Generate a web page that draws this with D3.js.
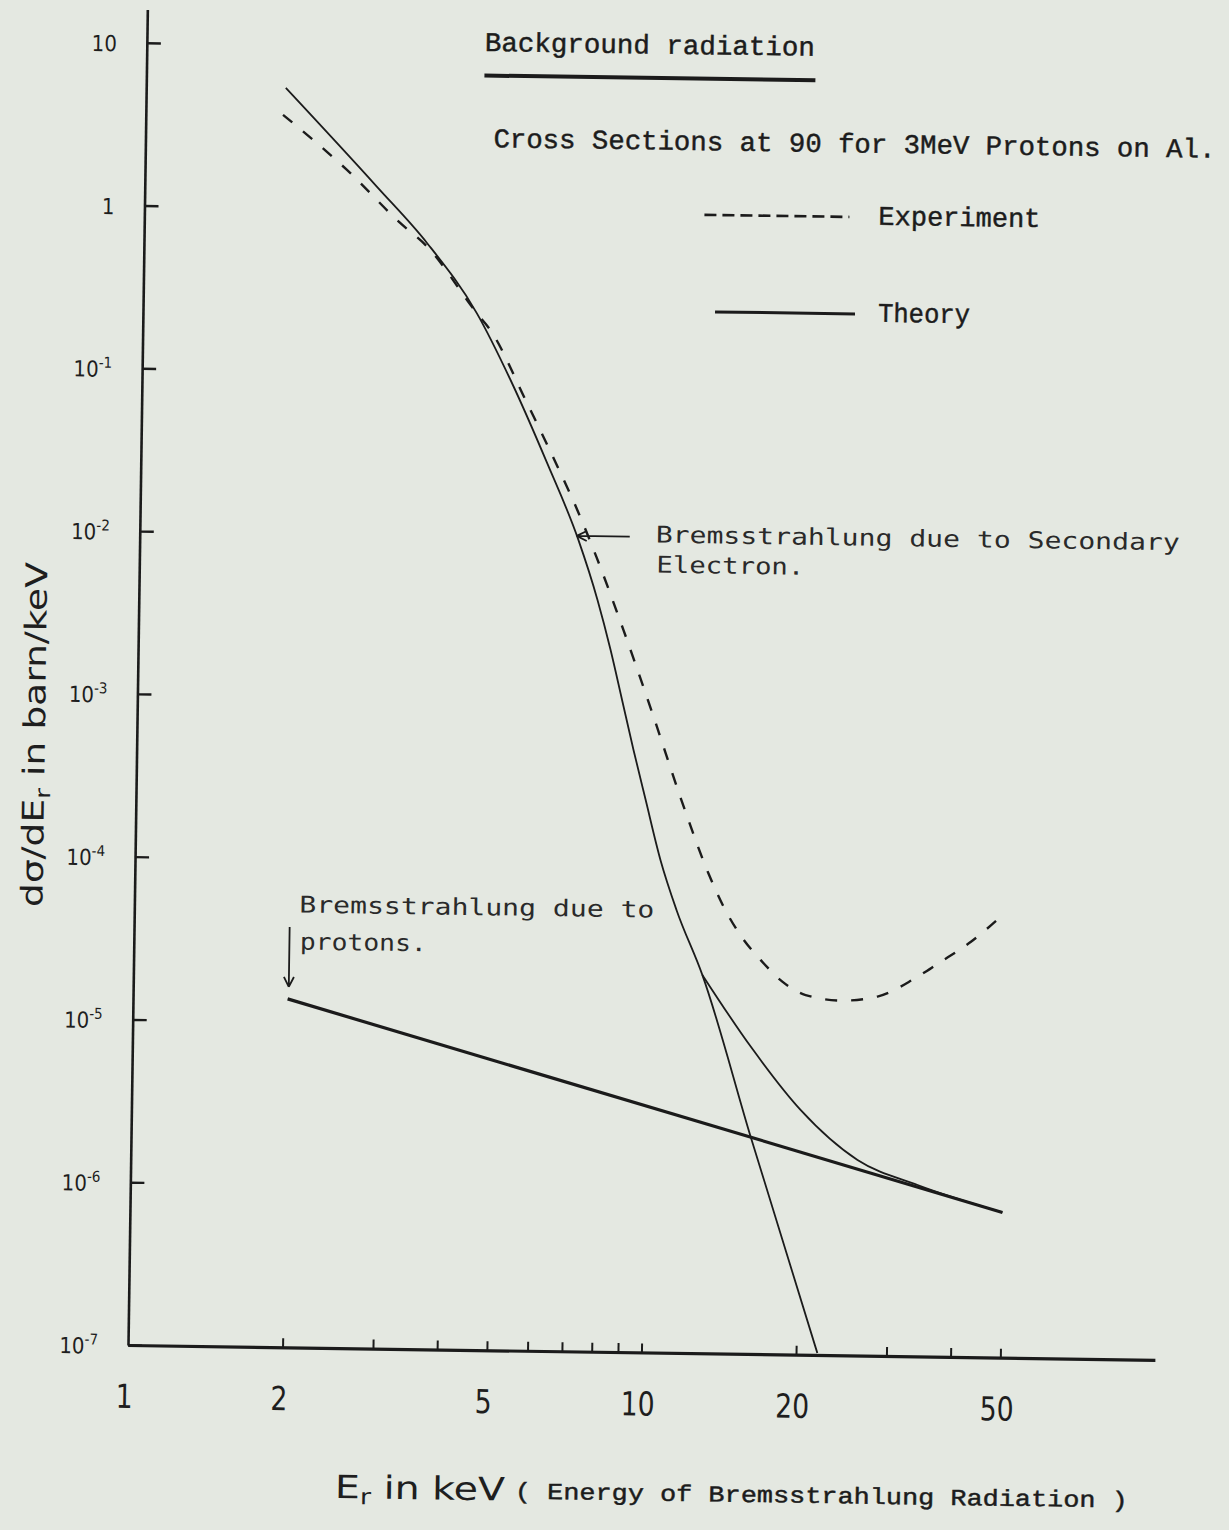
<!DOCTYPE html>
<html>
<head>
<meta charset="utf-8">
<script src="https://cdn.jsdelivr.net/npm/d3@7"></script>
<style>
  html, body { margin: 0; padding: 0; background: #e4e8e1; }
  svg { display: block; }
  .sans { font-family: 'DejaVu Sans Condensed', 'Liberation Sans Narrow', 'DejaVu Sans', sans-serif; font-stretch: condensed; fill: #1e1e1e; }
  .type { font-family: 'Liberation Mono', 'DejaVu Sans Mono', monospace; fill: #1c1c1c; stroke: #1c1c1c; stroke-width: 0.45; }
  .type2 { font-family: 'DejaVu Sans Mono', 'Liberation Mono', monospace; fill: #2a2a2a; }
</style>
</head>
<body>
<script>
// axis ticks
const xTicks = [2, 3, 4, 5, 6, 7, 8, 9, 10, 20, 30, 40, 50];
const xTickLabels = [1, 2, 5, 10, 20, 50];
const yTicks = [10, 1, 1e-1, 1e-2, 1e-3, 1e-4, 1e-5, 1e-6, 1e-7];
const yTickLabels = ["10", "1", "10^-1", "10^-2", "10^-3", "10^-4", "10^-5", "10^-6", "10^-7"];

// experiment (dashed)
const experimentX = [1.85, 2.47, 3.15, 3.56, 4.47, 4.75, 5.59, 6.57, 7.0, 7.76, 8.8, 10.07, 11.54, 13.08, 14.04, 15.3, 16.63, 18.36, 20.4, 23.89, 28.16, 33.11, 37.0, 42.66, 49.1];
const experimentY = [3.71, 1.73, 0.824, 0.593, 0.233, 0.185, 0.0692, 0.0248, 0.0163, 0.00762, 0.00273, 8.5e-4, 2.49e-4, 8.93e-5, 5.56e-5, 3.59e-5, 2.64e-5, 1.95e-5, 1.62e-5, 1.51e-5, 1.61e-5, 2.08e-5, 2.62e-5, 3.56e-5, 5.24e-5];

// theory: bremsstrahlung of secondary electrons
const electronX = [1.87, 2.83, 3.56, 4.47, 5.22, 6.17, 7.15, 7.82, 8.32, 8.79, 9.28, 9.83, 10.55, 11.37, 12.82, 16.09, 22.0];
const electronY = [5.43, 1.37, 0.622, 0.233, 0.0914, 0.0289, 0.00966, 0.00415, 0.00205, 0.00101, 5.01e-4, 2.48e-4, 1.06e-4, 5.26e-5, 2.11e-5, 2.16e-6, 1.03e-7];

// theory: total (electron + proton) tail
const totalX = [12.82, 16.0, 20.11, 26.02, 34.12, 50];
const totalY = [2.11e-5, 7.73e-6, 3.18e-6, 1.59e-6, 1.13e-6, 7.8e-7];

// theory: bremsstrahlung of protons
const protonX = [2, 50];
const protonY = [1.38e-5, 7.8e-7];

const W = 1229, H = 1530;
const ox = 128, oy = 1345;      // axis corner
const tilt = 0.83;              // the scanned page sits slightly rotated
const decade = 162.8;

const x = d3.scaleLog().domain([1, 100]).range([ox, ox + 1027]);
const y = d3.scaleLog().domain([1e-7, 16]).range([oy, oy - decade * Math.log10(16 / 1e-7)]);

const svg = d3.select("body").append("svg")
    .attr("width", W)
    .attr("height", H);

svg.append("rect").attr("width", W).attr("height", H).attr("fill", "#e4e8e1");

const page = svg.append("g")
    .attr("transform", `rotate(${tilt},${ox},${oy})`)
    .attr("color", "#1b1b1b");

// axes
const gx = page.append("g")
    .attr("transform", `translate(0,${oy})`)
    .call(d3.axisTop(x).tickValues(xTicks).tickSize(9).tickSizeOuter(0).tickFormat(""));
gx.select(".domain").attr("stroke-width", 3.2);
gx.selectAll(".tick line").attr("stroke-width", 2);

const gy = page.append("g")
    .attr("transform", `translate(${ox},0)`)
    .call(d3.axisRight(y).tickValues(yTicks).tickSize(14).tickSizeOuter(0).tickFormat(""));
gy.select(".domain").attr("stroke-width", 2.6);
gy.selectAll(".tick line").attr("stroke-width", 2.4);

// tick labels
page.selectAll("text.xl")
    .data(xTickLabels)
    .enter()
    .append("text")
    .attr("class", "xl sans")
    .attr("x", (d) => x(d) - 3)
    .attr("y", oy + 63)
    .attr("text-anchor", "middle")
    .attr("font-size", 33)
    .attr("textLength", (d) => String(d).length * 17)
    .attr("lengthAdjust", "spacingAndGlyphs")
    .text((d) => d);

const yl = page.selectAll("text.yl")
    .data(d3.zip(yTicks, yTickLabels))
    .enter()
    .append("text")
    .attr("class", "yl sans")
    .attr("x", ox - 30)
    .attr("y", (d) => y(d[0]) + 9)
    .attr("text-anchor", "end")
    .attr("font-size", 22);
yl.append("tspan").text((d) => d[1].split("^")[0]);
yl.filter((d) => d[1].includes("^"))
    .append("tspan")
    .attr("dy", -9)
    .attr("font-size", 15)
    .text((d) => d[1].split("^")[1]);

// curves
const line = d3.line()
    .x((d) => x(d[0]))
    .y((d) => y(d[1]))
    .curve(d3.curveMonotoneX);

page.append("path")
    .datum(d3.zip(protonX, protonY))
    .attr("fill", "none")
    .attr("stroke", "#1b1b1b")
    .attr("stroke-width", 3.2)
    .attr("d", d3.line().x((d) => x(d[0])).y((d) => y(d[1])));

page.append("path")
    .datum(d3.zip(electronX, electronY))
    .attr("fill", "none")
    .attr("stroke", "#1b1b1b")
    .attr("stroke-width", 1.8)
    .attr("d", line);

page.append("path")
    .datum(d3.zip(totalX, totalY))
    .attr("fill", "none")
    .attr("stroke", "#1b1b1b")
    .attr("stroke-width", 1.8)
    .attr("d", line);

page.append("path")
    .datum(d3.zip(experimentX, experimentY))
    .attr("fill", "none")
    .attr("stroke", "#1b1b1b")
    .attr("stroke-width", 2.4)
    .attr("stroke-dasharray", "12,14")
    .attr("d", line);

// title and legend
page.append("text")
    .attr("class", "type")
    .attr("x", 466).attr("y", 46)
    .attr("font-size", 27)
    .attr("textLength", 330).attr("lengthAdjust", "spacingAndGlyphs")
    .text("Background radiation");

page.append("line")
    .attr("x1", 466).attr("x2", 797)
    .attr("y1", 70.5).attr("y2", 70.5)
    .attr("stroke", "#1b1b1b")
    .attr("stroke-width", 4);

page.append("text")
    .attr("class", "type")
    .attr("x", 476).attr("y", 142)
    .attr("font-size", 27)
    .attr("textLength", 722).attr("lengthAdjust", "spacingAndGlyphs")
    .text("Cross Sections at 90 for 3MeV Protons on Al.");

page.append("line")
    .attr("x1", 688).attr("x2", 833)
    .attr("y1", 206.6).attr("y2", 206.6)
    .attr("stroke", "#1b1b1b")
    .attr("stroke-width", 2.6)
    .attr("stroke-dasharray", "12,6");

page.append("text")
    .attr("class", "type")
    .attr("x", 862).attr("y", 214)
    .attr("font-size", 27)
    .attr("textLength", 162).attr("lengthAdjust", "spacingAndGlyphs")
    .text("Experiment");

page.append("line")
    .attr("x1", 700).attr("x2", 840)
    .attr("y1", 303.5).attr("y2", 303.5)
    .attr("stroke", "#1b1b1b")
    .attr("stroke-width", 3);

page.append("text")
    .attr("class", "type")
    .attr("x", 863).attr("y", 311)
    .attr("font-size", 27)
    .attr("textLength", 92).attr("lengthAdjust", "spacingAndGlyphs")
    .text("Theory");

// annotations
page.append("path")
    .attr("fill", "none")
    .attr("stroke", "#1b1b1b")
    .attr("stroke-width", 1.8)
    .attr("d", "M618,529.5H565M565,529.5l10,-5M565,529.5l10,5");

page.append("text")
    .attr("class", "type2")
    .attr("x", 644).attr("y", 535)
    .attr("font-size", 23)
    .attr("textLength", 524).attr("lengthAdjust", "spacingAndGlyphs")
    .text("Bremsstrahlung due to Secondary");

page.append("text")
    .attr("class", "type2")
    .attr("x", 645).attr("y", 565)
    .attr("font-size", 23)
    .attr("textLength", 148).attr("lengthAdjust", "spacingAndGlyphs")
    .text("Electron.");

const ax = x(protonX[0]) + 1;
const ay = y(protonY[0]);
page.append("path")
    .attr("fill", "none")
    .attr("stroke", "#1b1b1b")
    .attr("stroke-width", 1.8)
    .attr("d", `M${ax},${ay - 72}V${ay - 12}M${ax},${ay - 12}l-5,-10M${ax},${ay - 12}l5,-10`);

page.append("text")
    .attr("class", "type2")
    .attr("x", 293).attr("y", 910)
    .attr("font-size", 23)
    .attr("textLength", 355).attr("lengthAdjust", "spacingAndGlyphs")
    .text("Bremsstrahlung due to");

page.append("text")
    .attr("class", "type2")
    .attr("x", 294).attr("y", 947)
    .attr("font-size", 23)
    .attr("textLength", 127).attr("lengthAdjust", "spacingAndGlyphs")
    .text("protons.");

// axis titles
const xt = page.append("text")
    .attr("class", "sans")
    .attr("x", 337).attr("y", 1495)
    .attr("font-size", 32)
    .attr("textLength", 170).attr("lengthAdjust", "spacingAndGlyphs");
xt.append("tspan").text("E");
xt.append("tspan").attr("font-size", 22).attr("dy", 6).text("r");
xt.append("tspan").attr("dy", -6).text(" in keV");

page.append("text")
    .attr("class", "type")
    .attr("x", 517).attr("y", 1493)
    .attr("font-size", 23)
    .attr("textLength", 613).attr("lengthAdjust", "spacingAndGlyphs")
    .text("( Energy of Bremsstrahlung Radiation )");

const yt = page.append("text")
    .attr("class", "sans")
    .attr("transform", "translate(36,736) rotate(-90)")
    .attr("text-anchor", "middle")
    .attr("font-size", 30)
    .attr("textLength", 345).attr("lengthAdjust", "spacingAndGlyphs");
yt.append("tspan").text("dσ/dE");
yt.append("tspan").attr("font-size", 21).attr("dy", 6).text("r");
yt.append("tspan").attr("dy", -6).text(" in barn/keV");
</script>
</body>
</html>
